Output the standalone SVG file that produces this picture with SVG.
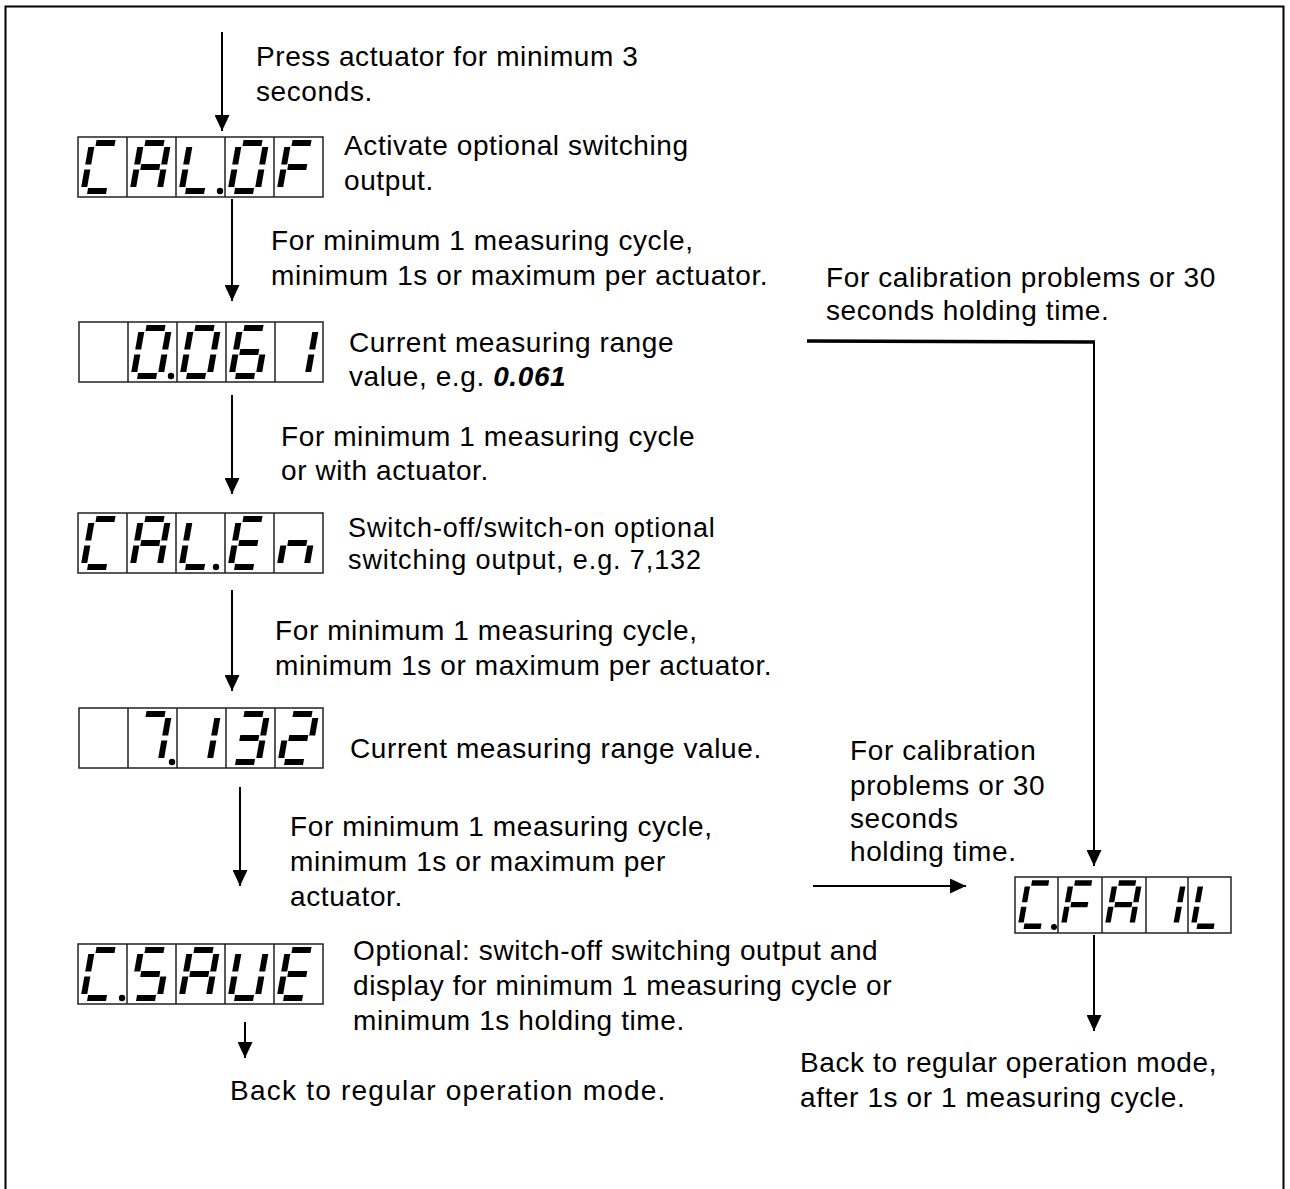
<svg xmlns="http://www.w3.org/2000/svg" xmlns:xlink="http://www.w3.org/1999/xlink" width="1290" height="1189" viewBox="0 0 1290 1189">
<style>
.t{font-family:"Liberation Sans",Arial,sans-serif;font-size:28px;letter-spacing:0.6px;fill:#000}
.ts{font-family:"Liberation Sans",Arial,sans-serif;font-size:27px;letter-spacing:0.9px;fill:#000}
.seg{stroke:#000;stroke-width:6;stroke-linecap:butt}
.box{fill:#fff;stroke:#222;stroke-width:1.5}
.div{stroke:#222;stroke-width:1.5}
.ar{stroke:#000;stroke-width:2;fill:none}
.dp{fill:#000}
</style>
<defs>
<marker id="ah" markerUnits="userSpaceOnUse" markerWidth="16" markerHeight="15" refX="16" refY="7.5" orient="auto">
<path d="M0,0 L16,7.5 L0,15 z" fill="#000"/>
</marker>
<line id="sa" class="seg" x1="4" y1="0" x2="23" y2="0"/>
<line id="sb" class="seg" x1="27" y1="4" x2="27" y2="21.5"/>
<line id="sc" class="seg" x1="27" y1="26.5" x2="27" y2="44"/>
<line id="sd" class="seg" x1="4" y1="48" x2="23" y2="48"/>
<line id="se" class="seg" x1="0" y1="26.5" x2="0" y2="44"/>
<line id="sf" class="seg" x1="0" y1="4" x2="0" y2="21.5"/>
<line id="sg" class="seg" x1="4" y1="24" x2="23" y2="24"/>
<g id="cC"><use href="#sa"/><use href="#sd"/><use href="#se"/><use href="#sf"/></g>
<g id="cA"><use href="#sa"/><use href="#sb"/><use href="#sc"/><use href="#se"/><use href="#sf"/><use href="#sg"/></g>
<g id="cL"><use href="#sd"/><use href="#se"/><use href="#sf"/></g>
<g id="c0"><use href="#sa"/><use href="#sb"/><use href="#sc"/><use href="#sd"/><use href="#se"/><use href="#sf"/></g>
<g id="cF"><use href="#sa"/><use href="#se"/><use href="#sf"/><use href="#sg"/></g>
<g id="cE"><use href="#sa"/><use href="#sd"/><use href="#se"/><use href="#sf"/><use href="#sg"/></g>
<g id="cn"><use href="#sc"/><use href="#se"/><use href="#sg"/></g>
<g id="cS"><use href="#sa"/><use href="#sf"/><use href="#sg"/><use href="#sc"/><use href="#sd"/></g>
<g id="cU"><use href="#sb"/><use href="#sc"/><use href="#sd"/><use href="#se"/><use href="#sf"/></g>
<g id="c7"><use href="#sa"/><use href="#sb"/><use href="#sc"/></g>
<g id="c1"><use href="#sb"/><use href="#sc"/></g>
<g id="c3"><use href="#sa"/><use href="#sb"/><use href="#sg"/><use href="#sc"/><use href="#sd"/></g>
<g id="c2"><use href="#sa"/><use href="#sb"/><use href="#sg"/><use href="#se"/><use href="#sd"/></g>
<g id="c6"><use href="#sa"/><use href="#sf"/><use href="#sg"/><use href="#se"/><use href="#sd"/><use href="#sc"/></g>
</defs>

<rect x="5.5" y="6.5" width="1278" height="1220" fill="#fff" stroke="#000" stroke-width="2"/>

<g id="connectors">
<line class="ar" x1="222" y1="32" x2="222" y2="131" marker-end="url(#ah)"/>
<line class="ar" x1="232" y1="199" x2="232" y2="301" marker-end="url(#ah)"/>
<line class="ar" x1="232" y1="395" x2="232" y2="494" marker-end="url(#ah)"/>
<line class="ar" x1="232" y1="590" x2="232" y2="691" marker-end="url(#ah)"/>
<line class="ar" x1="240" y1="787" x2="240" y2="886" marker-end="url(#ah)"/>
<line class="ar" x1="245" y1="1022" x2="245" y2="1058" marker-end="url(#ah)"/>
<line x1="807" y1="341" x2="1095" y2="342" stroke="#000" stroke-width="3.5"/>
<line class="ar" x1="1094" y1="341" x2="1094" y2="866" marker-end="url(#ah)"/>
<line class="ar" x1="813" y1="886" x2="966" y2="886" marker-end="url(#ah)"/>
<line class="ar" x1="1094" y1="935" x2="1094" y2="1031" marker-end="url(#ah)"/>
</g>

<g id="n-calof">
<rect class="box" x="78" y="137" width="245" height="60"/>
<path class="div" d="M127,137V197M176,137V197M225,137V197M274,137V197"/>
<use href="#cC" transform="translate(92,143) skewX(-10)"/>
<use href="#cA" transform="translate(141,143) skewX(-10)"/>
<use href="#cL" transform="translate(190,143) skewX(-10)"/>
<circle class="dp" cx="220" cy="191" r="3.2"/>
<use href="#c0" transform="translate(239,143) skewX(-10)"/>
<use href="#cF" transform="translate(288,143) skewX(-10)"/>
</g>

<g id="n-0061">
<rect class="box" x="79" y="322" width="244" height="60"/>
<path class="div" d="M128,322V382M177,322V382M226,322V382M275,322V382"/>
<use href="#c0" transform="translate(142,328) skewX(-10)"/>
<circle class="dp" cx="171" cy="376" r="3.2"/>
<use href="#c0" transform="translate(191,328) skewX(-10)"/>
<use href="#c6" transform="translate(240,328) skewX(-10)"/>
<use href="#c1" transform="translate(289,328) skewX(-10)"/>
</g>

<g id="n-calen">
<rect class="box" x="78" y="513" width="245" height="60"/>
<path class="div" d="M127,513V573M176,513V573M225,513V573M274,513V573"/>
<use href="#cC" transform="translate(92,519) skewX(-10)"/>
<use href="#cA" transform="translate(141,519) skewX(-10)"/>
<use href="#cL" transform="translate(190,519) skewX(-10)"/>
<circle class="dp" cx="216" cy="567" r="3.2"/>
<use href="#cE" transform="translate(239,519) skewX(-10)"/>
<use href="#cn" transform="translate(288,519) skewX(-10)"/>
</g>

<g id="n-7132">
<rect class="box" x="79" y="708" width="244" height="60"/>
<path class="div" d="M128,708V768M177,708V768M226,708V768M275,708V768"/>
<use href="#c7" transform="translate(142,714) skewX(-10)"/>
<circle class="dp" cx="172" cy="762" r="3.2"/>
<use href="#c1" transform="translate(191,714) skewX(-10)"/>
<use href="#c3" transform="translate(240,714) skewX(-10)"/>
<use href="#c2" transform="translate(289,714) skewX(-10)"/>
</g>

<g id="n-csave">
<rect class="box" x="78" y="944" width="245" height="60"/>
<path class="div" d="M127,944V1004M176,944V1004M225,944V1004M274,944V1004"/>
<use href="#cC" transform="translate(92,950) skewX(-10)"/>
<circle class="dp" cx="122" cy="998" r="3.2"/>
<use href="#cS" transform="translate(141,950) skewX(-10)"/>
<use href="#cA" transform="translate(190,950) skewX(-10)"/>
<use href="#cU" transform="translate(239,950) skewX(-10)"/>
<use href="#cE" transform="translate(288,950) skewX(-10)"/>
</g>

<g id="n-cfail">
<rect class="box" x="1015" y="877" width="216" height="56"/>
<path class="div" d="M1058,877V933M1102,877V933M1146,877V933M1188,877V933"/>
<use href="#cC" transform="translate(1028,883) skewX(-10) scale(0.9)"/>
<circle class="dp" cx="1054" cy="927" r="3"/>
<use href="#cF" transform="translate(1071,883) skewX(-10) scale(0.9)"/>
<use href="#cA" transform="translate(1115,883) skewX(-10) scale(0.9)"/>
<use href="#c1" transform="translate(1159,883) skewX(-10) scale(0.9)"/>
<use href="#cL" transform="translate(1201,883) skewX(-10) scale(0.9)"/>
</g>

<g id="labels">
<text class="t" x="256" y="66">Press actuator for minimum 3</text>
<text class="t" x="256" y="101">seconds.</text>
<text class="t" x="344" y="155">Activate optional switching</text>
<text class="t" x="344" y="190">output.</text>
<text class="t" x="271" y="250">For minimum 1 measuring cycle,</text>
<text class="t" x="271" y="285">minimum 1s or maximum per actuator.</text>
<text class="t" x="826" y="287">For calibration problems or 30</text>
<text class="t" x="826" y="320">seconds holding time.</text>
<text class="t" x="349" y="352">Current measuring range</text>
<text class="t" x="349" y="386">value, e.g. <tspan font-weight="bold" font-style="italic">0.061</tspan></text>
<text class="t" x="281" y="446">For minimum 1 measuring cycle</text>
<text class="t" x="281" y="480">or with actuator.</text>
<text class="ts" x="348" y="537">Switch-off/switch-on optional</text>
<text class="ts" x="348" y="569">switching output, e.g. 7,132</text>
<text class="t" x="275" y="640">For minimum 1 measuring cycle,</text>
<text class="t" x="275" y="675">minimum 1s or maximum per actuator.</text>
<text class="t" x="350" y="758">Current measuring range value.</text>
<text class="t" x="850" y="760">For calibration</text>
<text class="t" x="850" y="795">problems or 30</text>
<text class="t" x="850" y="828">seconds</text>
<text class="t" x="850" y="861">holding time.</text>
<text class="t" x="290" y="836">For minimum 1 measuring cycle,</text>
<text class="t" x="290" y="871">minimum 1s or maximum per</text>
<text class="t" x="290" y="906">actuator.</text>
<text class="t" x="353" y="960">Optional: switch-off switching output and</text>
<text class="t" x="353" y="995">display for minimum 1 measuring cycle or</text>
<text class="t" x="353" y="1030">minimum 1s holding time.</text>
<text class="t" x="230" y="1100" textLength="436" lengthAdjust="spacing">Back to regular operation mode.</text>
<text class="t" x="800" y="1072">Back to regular operation mode,</text>
<text class="t" x="800" y="1107">after 1s or 1 measuring cycle.</text>
</g>
</svg>
